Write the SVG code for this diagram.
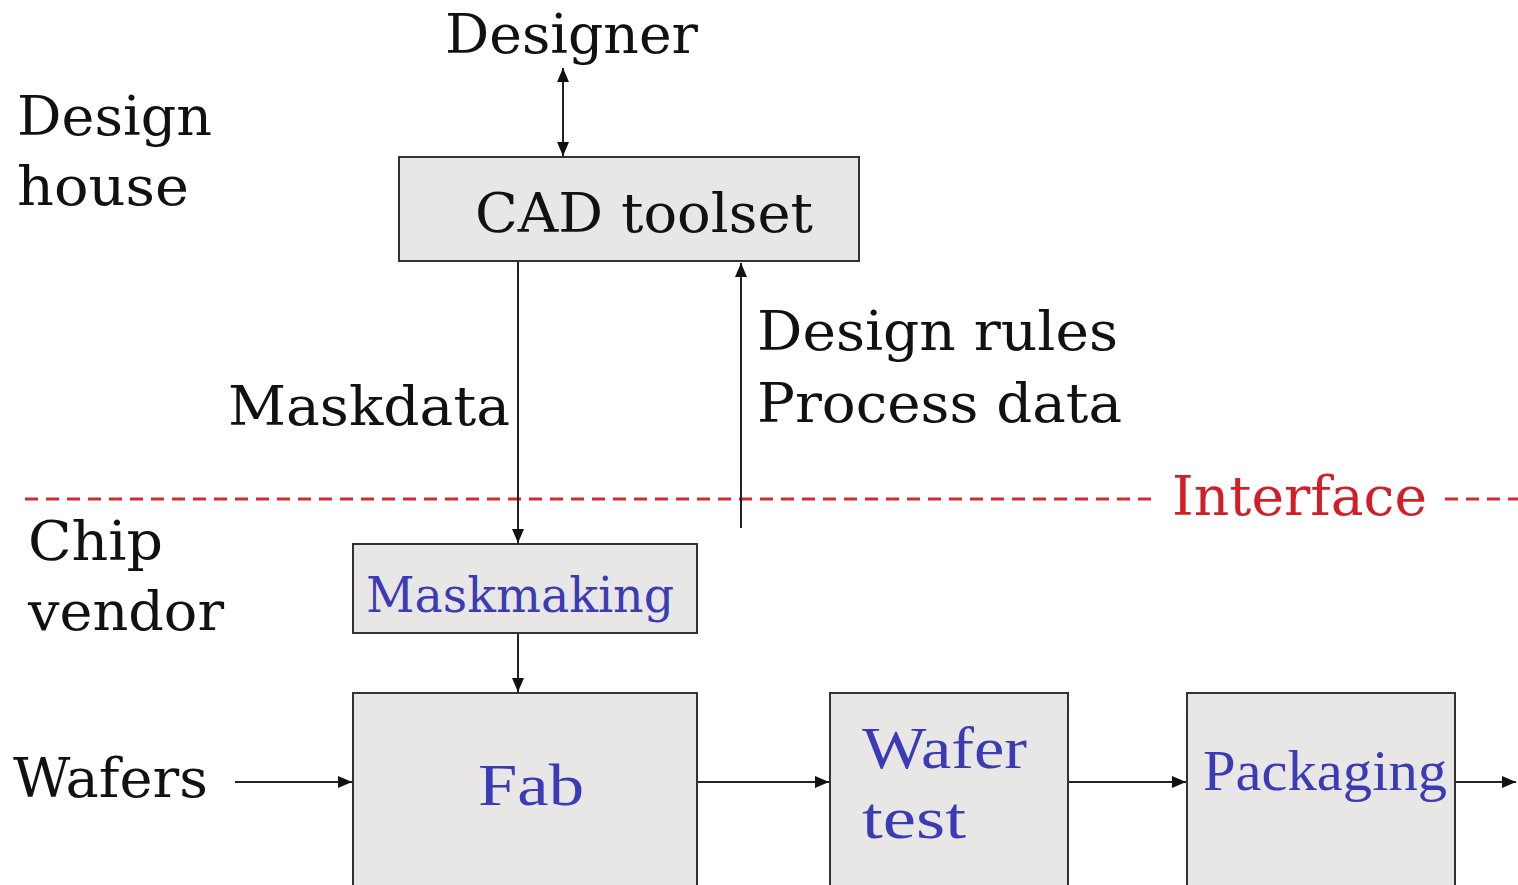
<svg xmlns="http://www.w3.org/2000/svg" width="1518" height="885" viewBox="0 0 1518 885">
<style>
.bg{fill:#ffffff}
.box{fill:#e8e7e6;stroke:#333;stroke-width:2}
.lbl{font-family:"DejaVu Serif","Liberation Serif",serif;fill:#111;}
.blue{font-family:"Liberation Serif",serif;fill:#3b3bb5;}
.bluec{font-family:"DejaVu Serif","Liberation Serif",serif;fill:#3b3bb5;}
.red{font-family:"DejaVu Serif","Liberation Serif",serif;fill:#d11f2a;}
.ln{stroke:#222;stroke-width:2;fill:none}
.dash{stroke:#d42a2f;stroke-width:3;stroke-dasharray:13 8;fill:none}
</style>
<defs>
<marker id="ah" viewBox="0 0 14 12" refX="14" refY="6" markerWidth="14" markerHeight="12" markerUnits="userSpaceOnUse" orient="auto-start-reverse">
<path d="M0,0 L14,6 L0,12 Z" fill="#111"/>
</marker>
</defs>
<rect class="bg" x="0" y="0" width="1518" height="885"/>

<g id="labels">
<text class="lbl" x="445" y="53" font-size="54" textLength="253" lengthAdjust="spacingAndGlyphs">Designer</text>
<text class="lbl" x="17" y="135" font-size="54" textLength="195" lengthAdjust="spacingAndGlyphs">Design</text>
<text class="lbl" x="17" y="205" font-size="54" textLength="172" lengthAdjust="spacingAndGlyphs">house</text>
<text class="lbl" x="228" y="425" font-size="54" textLength="282" lengthAdjust="spacingAndGlyphs">Maskdata</text>
<text class="lbl" x="757" y="350" font-size="54" textLength="361" lengthAdjust="spacingAndGlyphs">Design rules</text>
<text class="lbl" x="757" y="422" font-size="54" textLength="365" lengthAdjust="spacingAndGlyphs">Process data</text>
<text class="lbl" x="28" y="560" font-size="54" textLength="135" lengthAdjust="spacingAndGlyphs">Chip</text>
<text class="lbl" x="28" y="630" font-size="54" textLength="196" lengthAdjust="spacingAndGlyphs">vendor</text>
<text class="lbl" x="13" y="797" font-size="54" textLength="195" lengthAdjust="spacingAndGlyphs">Wafers</text>
</g>

<g id="interface">
<line class="dash" x1="25" y1="499" x2="1152" y2="499"/>
<line class="dash" x1="1445" y1="499" x2="1518" y2="499"/>
<text class="red" x="1172" y="515" font-size="54" textLength="255" lengthAdjust="spacingAndGlyphs">Interface</text>
</g>

<g id="cad">
<rect class="box" x="399" y="157" width="460" height="104"/>
<text class="lbl" x="475" y="232" font-size="54" textLength="338" lengthAdjust="spacingAndGlyphs">CAD toolset</text>
</g>

<g id="maskmaking">
<rect class="box" x="353" y="544" width="344" height="89"/>
<text class="bluec" x="366" y="612" font-size="48" textLength="308" lengthAdjust="spacingAndGlyphs">Maskmaking</text>
</g>

<g id="fab">
<rect class="box" x="353" y="693" width="344" height="200"/>
<text class="blue" x="478" y="805" font-size="60" textLength="106" lengthAdjust="spacingAndGlyphs">Fab</text>
</g>

<g id="wafertest">
<rect class="box" x="830" y="693" width="238" height="200"/>
<text class="blue" x="862" y="768" font-size="60" textLength="165" lengthAdjust="spacingAndGlyphs">Wafer</text>
<text class="blue" x="862" y="838" font-size="60" textLength="104" lengthAdjust="spacingAndGlyphs">test</text>
</g>

<g id="packaging">
<rect class="box" x="1187" y="693" width="268" height="200"/>
<text class="blue" x="1203" y="790" font-size="56" textLength="244" lengthAdjust="spacingAndGlyphs">Packaging</text>
</g>

<g id="connectors">
<line class="ln" x1="563" y1="68" x2="563" y2="156" marker-start="url(#ah)" marker-end="url(#ah)"/>
<line class="ln" x1="518" y1="262" x2="518" y2="543" marker-end="url(#ah)"/>
<line class="ln" x1="741" y1="528" x2="741" y2="263" marker-end="url(#ah)"/>
<line class="ln" x1="518" y1="634" x2="518" y2="692" marker-end="url(#ah)"/>
<line class="ln" x1="235" y1="782" x2="352" y2="782" marker-end="url(#ah)"/>
<line class="ln" x1="698" y1="782" x2="829" y2="782" marker-end="url(#ah)"/>
<line class="ln" x1="1069" y1="782" x2="1186" y2="782" marker-end="url(#ah)"/>
<line class="ln" x1="1456" y1="782" x2="1516" y2="782" marker-end="url(#ah)"/>
</g>
</svg>
